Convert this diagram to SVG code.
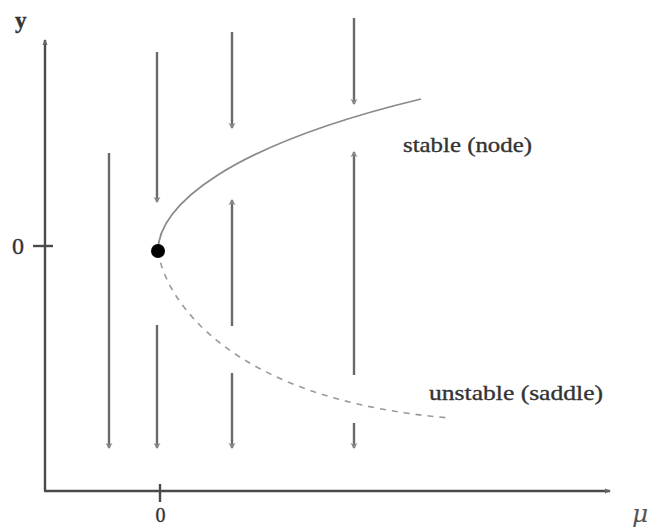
<svg xmlns="http://www.w3.org/2000/svg" width="651" height="529" viewBox="0 0 651 529">
<style>
.axis{stroke:#4a4a4a;stroke-width:2.4;fill:none}
.flow{stroke:#6a6a6a;stroke-width:2.4;fill:none}
.stable{stroke:#8a8a8a;stroke-width:1.8;fill:none}
.unstable{stroke:#9a9a9a;stroke-width:1.6;fill:none;stroke-dasharray:6 6}
.lbl{font-family:"Liberation Serif","Times New Roman",serif;fill:#333;stroke:#333;stroke-width:0.35}
</style>
<defs>
<marker id="ah" markerWidth="8" markerHeight="10" refX="5" refY="4" orient="auto" markerUnits="userSpaceOnUse" viewBox="0 0 8 10">
<path d="M0,0.5 L6,4 L0,7.5 L1.5,4 Z" fill="#888"/>
</marker>
<marker id="axh" markerWidth="8" markerHeight="8" refX="5" refY="4" orient="auto" markerUnits="userSpaceOnUse" viewBox="0 0 8 8">
<path d="M0,1.5 L6,4 L0,6.5 Z" fill="#666"/>
</marker>
</defs>
<g id="axes">
<line class="axis" x1="45" y1="491" x2="45" y2="40" marker-end="url(#axh)"/>
<line class="axis" x1="44" y1="491" x2="610" y2="491" marker-end="url(#axh)"/>
<line class="axis" x1="33" y1="246" x2="53" y2="246"/>
<line class="axis" x1="160" y1="484" x2="160" y2="502"/>
</g>
<g id="labels">
<text class="lbl" x="15" y="28" font-size="23" font-weight="bold" stroke-width="0">y</text>
<text class="lbl" x="12" y="254" font-size="24">0</text>
<text class="lbl" x="155.5" y="522" font-size="20">0</text>
<text class="lbl" x="403" y="152" font-size="22" textLength="129" lengthAdjust="spacingAndGlyphs">stable (node)</text>
<text class="lbl" x="429" y="400" font-size="22" textLength="174" lengthAdjust="spacingAndGlyphs">unstable (saddle)</text>
<text x="632" y="522" font-size="25" font-style="italic" fill="#555" font-family="'DejaVu Serif','Liberation Serif',serif">μ</text>
</g>
<g id="connectors">
<line class="flow" x1="109" y1="153" x2="109" y2="448" marker-end="url(#ah)"/>
<line class="flow" x1="157" y1="52" x2="157" y2="202" marker-end="url(#ah)"/>
<line class="flow" x1="157" y1="325" x2="157" y2="448" marker-end="url(#ah)"/>
<line class="flow" x1="232" y1="32" x2="232" y2="128" marker-end="url(#ah)"/>
<line class="flow" x1="232" y1="326" x2="232" y2="200" marker-end="url(#ah)"/>
<line class="flow" x1="232" y1="373" x2="232" y2="448" marker-end="url(#ah)"/>
<line class="flow" x1="354" y1="18" x2="354" y2="104" marker-end="url(#ah)"/>
<line class="flow" x1="354" y1="375" x2="354" y2="152" marker-end="url(#ah)"/>
<line class="flow" x1="354" y1="423" x2="354" y2="448" marker-end="url(#ah)"/>
</g>
<g id="branches">
<path class="stable" d="M158,251 C158,205 230,145 421,99"/>
<path class="unstable" d="M158,251 C165,300 230,400 450,418"/>
</g>
<g id="bifurcation-point">
<circle cx="158" cy="251" r="7" fill="#000"/>
</g>
</svg>
